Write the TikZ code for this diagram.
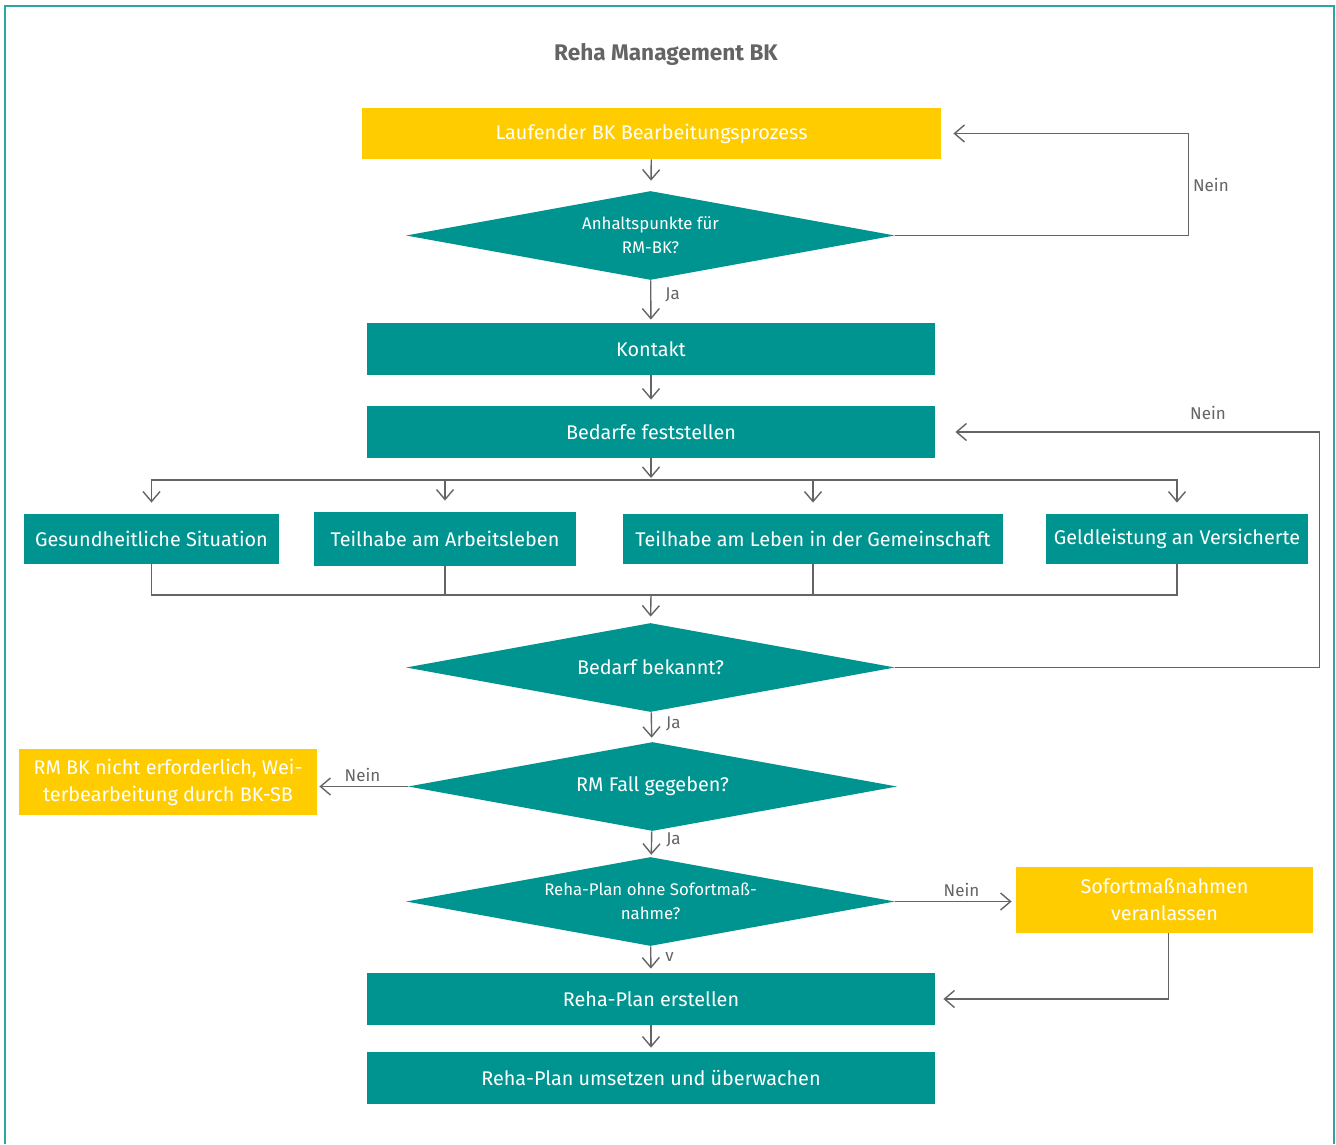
\documentclass[tikz,border=0pt]{standalone}
\usepackage{fontspec}
\setmainfont{Fira Sans}
\usetikzlibrary{shapes.geometric,arrows.meta,positioning}
\definecolor{rmteal}{RGB}{0,148,144}
\definecolor{rmgelb}{RGB}{255,204,0}
\definecolor{rmgrau}{RGB}{100,100,100}
\definecolor{rmrand}{RGB}{40,168,160}
\newcommand{\boxschrift}{\fontsize{9.9}{13.5}\selectfont}
\newcommand{\rautenschrift}{\fontsize{8.4}{12}\selectfont}
\newcommand{\labelschrift}{\fontsize{8.5}{10}\selectfont}

\begin{document}
\begin{tikzpicture}[x=0.5pt,y=-0.5pt,
		box/.style={rectangle,fill=rmteal,text=white,inner sep=0pt,minimum width=284pt,minimum height=26pt,font=\boxschrift,align=center},
		gelbbox/.style={box,fill=rmgelb},
		raute/.style={diamond,fill=rmteal,text=white,inner sep=0pt,aspect=5.5,minimum width=244.5pt,minimum height=44.5pt,align=center},
		pfeil/.style={draw=rmgrau,line width=0.7pt,-{Straight Barb[length=5pt,width=8.5pt,line width=0.7pt]}},
		linie/.style={draw=rmgrau,line width=0.7pt},
		lbl/.style={text=rmgrau,font=\labelschrift,inner sep=2pt}]
	\useasboundingbox (0,0) rectangle (1336,1144);
	\draw[rmrand,line width=1pt] (5,1144) -- (5,6) -- (1334,6) -- (1334,1144);
	\node[text=rmgrau,font=\fontsize{11.3}{13}\selectfont\bfseries] (titel) at (666,54) {Reha Management BK};

	% Ablauf
	\node[gelbbox,minimum width=289.5pt,minimum height=25.5pt] (lauf) at (651.5,133.5) {Laufender BK Bearbeitungsprozess};
	\node[raute,font=\rautenschrift] (anh) at (650.5,235.5) {Anhaltspunkte für\\RM-BK?};
	\node[box] (kontakt) at (651,349) {Kontakt};
	\node[box] (bedarf) at (651,432) {Bedarfe feststellen};
	\node[box,minimum width=127.5pt,minimum height=25pt] (gesund) at (151.5,539) {Gesundheitliche Situation};
	\node[box,minimum width=131pt,minimum height=27pt] (arbeit) at (445,539) {Teilhabe am Arbeitsleben};
	\node[box,minimum width=190pt,minimum height=25pt] (gemein) at (813,539) {Teilhabe am Leben in der Gemeinschaft};
	\node[box,minimum width=131pt,minimum height=25pt] (geld) at (1177,539) {Geldleistung an Versicherte};
	\node[raute,font=\boxschrift] (bek) at (650.5,667.5) {Bedarf bekannt?};
	\node[raute,font=\boxschrift] (fall) at (652.5,786.5) {RM Fall gegeben?};
	\node[gelbbox,minimum width=149pt,minimum height=33pt] (nicht) at (168,782) {RM BK nicht erforderlich, Wei-\\terbearbeitung durch BK-SB};
	\node[raute,font=\rautenschrift] (ohne) at (650.5,901.5) {Reha-Plan ohne Sofortmaß-\\nahme?};
	\node[gelbbox,minimum width=148.5pt,minimum height=33pt] (sofort) at (1164.5,900) {Sofortmaßnahmen\\veranlassen};
	\node[box] (erst) at (651,999) {Reha-Plan erstellen};
	\node[box] (umsetz) at (651,1078) {Reha-Plan umsetzen und überwachen};

	\coordinate (vt) at (651,480);
	\coordinate (sm) at (651,595);

	\path[every edge/.style={pfeil}]
	(lauf) edge [shorten >=5pt] (anh)
	(anh) edge [shorten >=1.5pt] node[lbl,right,pos=0.35,xshift=5pt] {Ja} (kontakt)
	(kontakt) edge [shorten >=3pt] (bedarf)
	(bedarf) edge [shorten >=1pt] (vt)
	(bek) edge [shorten >=2pt] node[lbl,right,pos=0.4,xshift=5pt] {Ja} (fall)
	(fall) edge [shorten >=1pt] node[lbl,right,pos=0.35,xshift=5pt] {Ja} (ohne)
	(fall.west) edge [shorten >=1pt] node[lbl,above,pos=0.5] {Nein} (fall.west -| nicht.east)
	(ohne) edge [shorten >=2pt] node[lbl,right,pos=0.4,xshift=5pt] {v} (erst)
	(ohne.east) edge [shorten >=2pt] node[lbl,above,pos=0.55] {Nein} (ohne.east -| sofort.west)
	(erst) edge [shorten >=2pt] (umsetz);

	% Verteilung auf die Bedarfe
	\foreach \b in {gesund,arbeit,gemein,geld}{
		\draw[pfeil,shorten >=5.5pt] (vt) -| (\b);
		\draw[linie] (\b.south) -- (\b.south |- sm) -- (sm);
	}
	\draw[pfeil,shorten >=3pt] (sm) -- (bek.north);

	% Rueckfuehrungen
	\draw[pfeil,shorten >=6pt] (anh.east) -- ++(293,0) |- node[lbl,right,pos=0.25] {Nein} (lauf);
	\draw[pfeil,shorten >=10pt] (bek.east) -- ++(424,0) |- node[lbl,above,pos=0.645,yshift=4pt] {Nein} (bedarf);
	\draw[pfeil,shorten >=4pt] ([xshift=2pt]sofort.south) |- (erst);
\end{tikzpicture}
\end{document}
